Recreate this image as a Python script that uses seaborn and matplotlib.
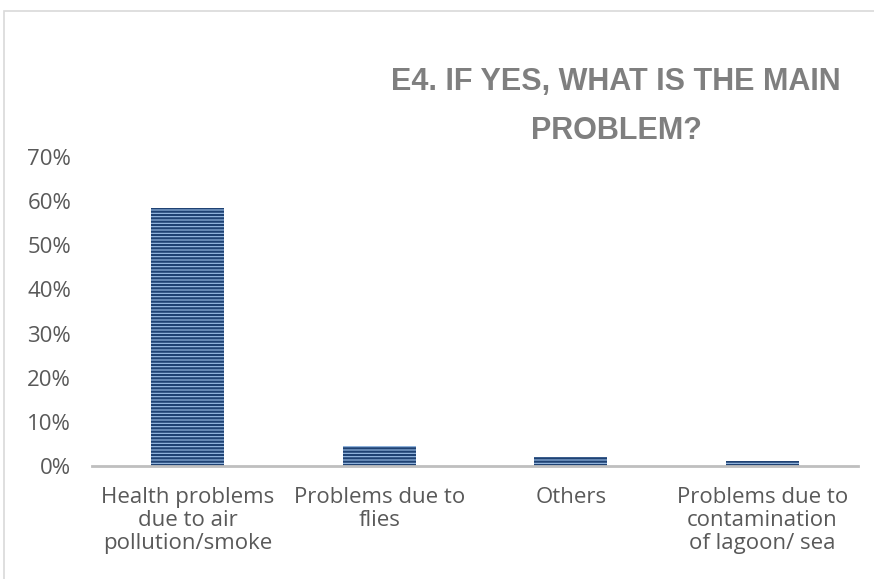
import matplotlib
matplotlib.use("Agg")
import matplotlib.pyplot as plt
import seaborn as sns
import pandas as pd
from matplotlib.patches import Rectangle

# -----------------------------
# Data
# -----------------------------
categories = [
    "Health problems\ndue to air\npollution/smoke",
    "Problems due to\nflies",
    "Others",
    "Problems due to\ncontamination\nof lagoon/ sea",
]
shares = [0.584, 0.045, 0.021, 0.011]
y_ticks = [0, 0.1, 0.2, 0.3, 0.4, 0.5, 0.6, 0.7]
title_lines = ["E4. IF YES, WHAT IS THE MAIN", "PROBLEM?"]

df = pd.DataFrame({"category": categories, "share": shares})

# -----------------------------
# Style
# -----------------------------
sns.set_theme(style="white")
plt.rcParams["font.family"] = ["Open Sans", "DejaVu Sans"]
plt.rcParams["hatch.linewidth"] = 1.6

text_grey = "#595959"
title_grey = "#7f7f7f"
navy = "#1f4273"
light_blue = "#9dc0e8"

fig = plt.figure(figsize=(8.74, 5.79), dpi=100)
ax = fig.add_axes([92 / 874, 1 - 466 / 579, 766 / 874, (466 - 157) / 579])

sns.barplot(data=df, x="category", y="share", ax=ax, color=light_blue,
            width=0.38, saturation=1)
for bar in ax.patches:
    bar.set_hatch("-----")
    bar.set_edgecolor(navy)
    bar.set_linewidth(0)

ax.set_ylim(0, 0.7)
ax.set_yticks(y_ticks)
ax.set_yticklabels([f"{int(round(t * 100))}%" for t in y_ticks])
ax.set_xlabel("")
ax.set_ylabel("")
ax.tick_params(axis="both", length=0, labelsize=16, colors=text_grey)
ax.tick_params(axis="y", pad=15)
ax.tick_params(axis="x", pad=15)
for lbl in ax.get_xticklabels():
    lbl.set_linespacing(1.12)

for side in ["top", "right", "left"]:
    ax.spines[side].set_visible(False)
ax.spines["bottom"].set_color("#bfbfbf")
ax.spines["bottom"].set_linewidth(2)

# chart frame
fig.patches.append(Rectangle((4 / 874, -0.05), 1.0, 1 - 11 / 579 + 0.05,
                             transform=fig.transFigure, fill=False,
                             edgecolor="#d9d9d9", linewidth=1.2))

# title
for txt, ypix in zip(title_lines, [82, 131]):
    fig.text(616 / 874, 1 - ypix / 579, txt, ha="center", va="center",
             fontsize=22, fontweight="bold", color=title_grey,
             family="Liberation Sans")

fig.savefig("out.png", dpi=100)
